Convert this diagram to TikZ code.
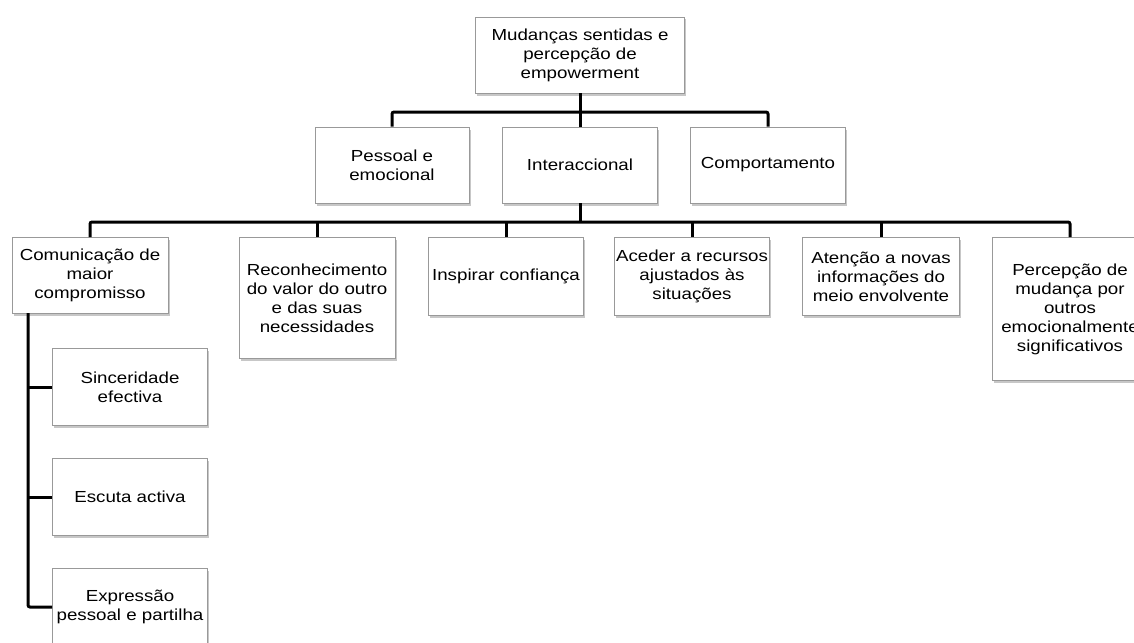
\documentclass[tikz,border=0pt]{standalone}
\usepackage{fontspec}
\setmainfont{Liberation Sans}[FakeStretch=1.17]
\usetikzlibrary{shadows}
\tikzset{
  box/.style={draw=black!40, line width=0.8pt, fill=white, align=center, inner sep=0pt,
    font=\fontsize{16}{19}\selectfont,
    drop shadow={shadow xshift=1.5pt, shadow yshift=-2.5pt, fill=black, opacity=0.22}},
  conn/.style={line width=3pt, draw=black, rounded corners=2pt}
}
\begin{document}
\begin{tikzpicture}[x=1pt,y=-1pt]
\useasboundingbox (0,0) rectangle (1134,642);
\clip (0,0) rectangle (1134,642);
% top
\node[box, minimum width=209pt, minimum height=76pt] (top) at (580,55) {Mudanças sentidas e\\percepção de\\empowerment};
% level 2
\node[box, minimum width=154pt, minimum height=76pt] (pes) at (392,165) {Pessoal e\\emocional};
\node[box, minimum width=155pt, minimum height=76pt] (int) at (580,165) {Interaccional};
\node[box, minimum width=155pt, minimum height=76pt] (cmp) at (768,165) {Comportamento};
% level 3
\node[box, anchor=north, minimum width=156pt, minimum height=76pt] (a) at (90,237) {Comunicação de\\maior\\compromisso};
\node[box, anchor=north, minimum width=156pt, minimum height=121pt] (b) at (317,237) {Reconhecimento\\do valor do outro\\e das suas\\necessidades};
\node[box, anchor=north, minimum width=155pt, minimum height=78pt] (c) at (506,237) {Inspirar confiança};
\node[box, anchor=north, minimum width=155pt, minimum height=78pt] (d) at (692,237) {Aceder a recursos\\ajustados às\\situações};
\node[box, anchor=north, minimum width=157pt, minimum height=78pt] (e) at (881,237) {Atenção a novas\\informações do\\meio envolvente};
\node[box, anchor=north, minimum width=156pt, minimum height=143pt] (f) at (1070,237) {Percepção de\\mudança por\\outros\\emocionalmente\\significativos};
% level 4
\node[box, minimum width=155pt, minimum height=77pt] (s1) at (130,387) {Sinceridade\\efectiva};
\node[box, minimum width=155pt, minimum height=77pt] (s2) at (130,497) {Escuta activa};
\node[box, minimum width=155pt, minimum height=78pt] (s3) at (130,607) {Expressão\\pessoal e partilha};
% coordinates
\coordinate (h2) at (580,112);
\coordinate (h3) at (580,222);
\coordinate (sp) at (28,313);
% connectors level 2
\draw[conn] (top.south) -- (int.north);
\draw[conn] (pes.north) |- (h2) -| (cmp.north);
% connectors level 3
\draw[conn] (int.south) -- (h3);
\draw[conn] (a.north) |- (h3) -| (f.north);
\draw[conn] (b.north) -- (b.north |- h3);
\draw[conn] (c.north) -- (c.north |- h3);
\draw[conn] (d.north) -- (d.north |- h3);
\draw[conn] (e.north) -- (e.north |- h3);
% connectors level 4
\draw[conn] (sp) |- (s3.west);
\draw[conn] (sp |- s1.west) -- (s1.west);
\draw[conn] (sp |- s2.west) -- (s2.west);
\end{tikzpicture}
\end{document}
